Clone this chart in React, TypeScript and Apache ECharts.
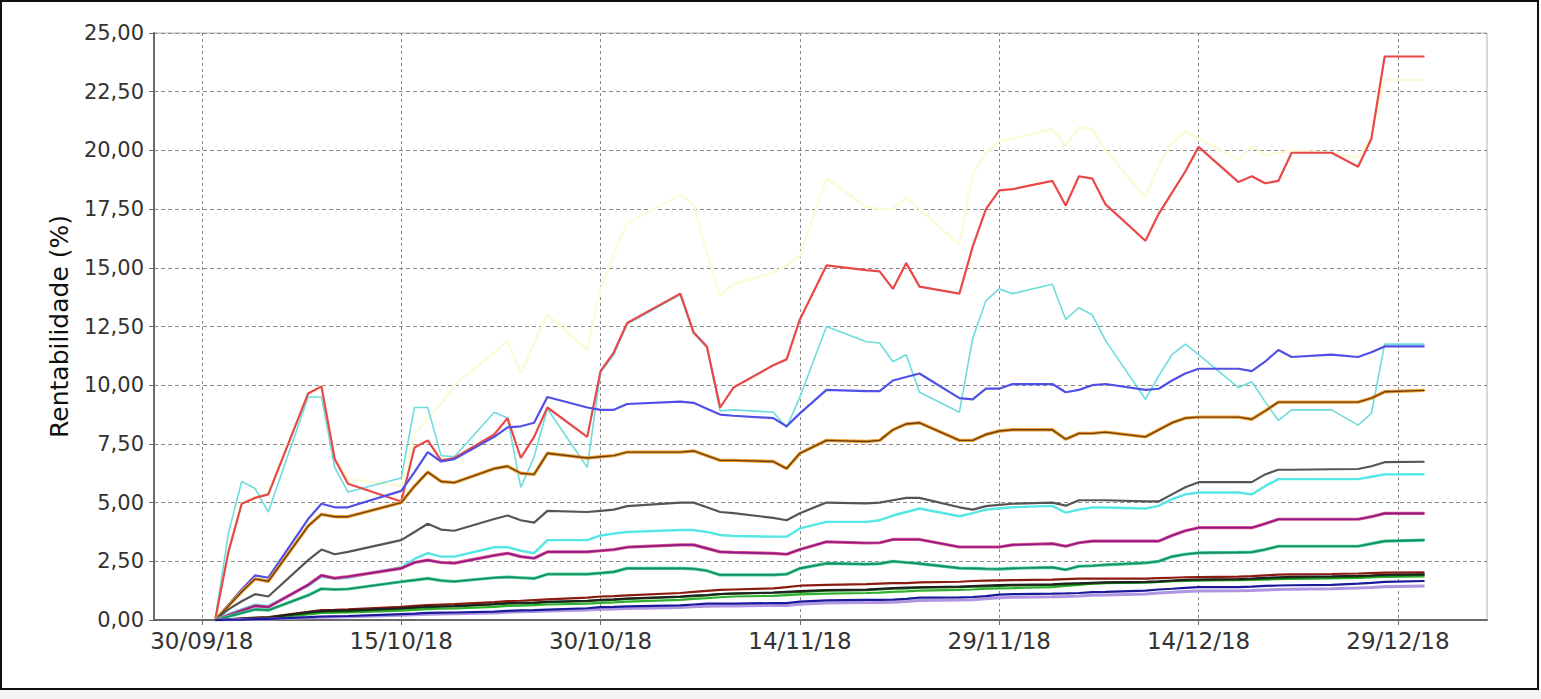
import React, { useEffect, useRef } from "react";
import * as echarts from "echarts";

// Business days (Brazil, 2018 Q4)
const dates = [
  "2018-10-01","2018-10-02","2018-10-03","2018-10-04","2018-10-05","2018-10-08","2018-10-09","2018-10-10","2018-10-11",
  "2018-10-15","2018-10-16","2018-10-17","2018-10-18","2018-10-19","2018-10-22","2018-10-23","2018-10-24","2018-10-25",
  "2018-10-26","2018-10-29","2018-10-30","2018-10-31",
  "2018-11-01","2018-11-05","2018-11-06","2018-11-07","2018-11-08","2018-11-09","2018-11-12","2018-11-13","2018-11-14",
  "2018-11-16","2018-11-19","2018-11-20","2018-11-21","2018-11-22","2018-11-23","2018-11-26","2018-11-27","2018-11-28",
  "2018-11-29","2018-11-30",
  "2018-12-03","2018-12-04","2018-12-05","2018-12-06","2018-12-07","2018-12-10","2018-12-11","2018-12-12","2018-12-13",
  "2018-12-14","2018-12-17","2018-12-18","2018-12-19","2018-12-20","2018-12-21","2018-12-24","2018-12-26","2018-12-27",
  "2018-12-28","2018-12-31",
];

const xTickValues = ["2018-09-30","2018-10-15","2018-10-30","2018-11-14","2018-11-29","2018-12-14","2018-12-29"];
const yMin = 0;
const yMax = 25;
const yStep = 2.5;
const axisTitle = "Rentabilidade (%)";

const paleYellow = [
  0, 3.0, 5.0, 5.25, 5.4, 9.6, 9.9, 6.9, 6.0, 5.7, 7.9, 8.6, 9.2, 10.0, 11.4, 11.9, 10.5, 11.8, 13.0, 11.5, 14.1, 15.6,
  16.9, 18.1, 17.7, 15.6, 13.8, 14.3, 14.8, 15.1, 15.5, 18.8, 17.6, 17.5, 17.5, 18.0, 17.5, 16.0, 19.0, 19.9, 20.4, 20.5,
  20.9, 20.2, 21.0, 20.9, 20.0, 18.0, 19.4, 20.3, 20.8, 20.5, 19.6, 20.2, 19.8, 19.9, 20.0, 19.9, 19.7, 20.6, 23.0, 23.0,
];
const cyanVolatile = [
  0, 3.7, 5.9, 5.6, 4.6, 9.5, 9.5, 6.5, 5.45, 6.05, 9.05, 9.05, 7.0, 6.95, 8.85, 8.6, 5.65, 6.95, 9.0, 6.5, 10.55, 11.3,
  12.6, 13.85, 12.2, 11.6, 8.9, 8.95, 8.85, 8.2, 9.5, 12.5, 11.85, 11.8, 11.0, 11.3, 9.7, 8.85, 12.0, 13.6, 14.1, 13.9,
  14.3, 12.8, 13.3, 13.0, 11.9, 9.4, 10.4, 11.3, 11.75, 11.3, 9.9, 10.15, 9.3, 8.5, 8.95, 8.95, 8.3, 8.8, 11.75, 11.75,
];
const red = [
  0, 2.9, 4.95, 5.2, 5.35, 9.65, 9.95, 6.85, 5.8, 5.05, 7.35, 7.65, 6.8, 6.9, 7.9, 8.6, 6.9, 7.8, 9.05, 7.8, 10.6, 11.4,
  12.65, 13.9, 12.25, 11.65, 9.05, 9.9, 10.85, 11.1, 12.8, 15.1, 14.9, 14.85, 14.1, 15.2, 14.2, 13.9, 15.9, 17.5, 18.3, 18.35,
  18.7, 17.65, 18.9, 18.8, 17.7, 16.15, 17.3, 18.2, 19.1, 20.15, 18.65, 18.9, 18.6, 18.7, 19.9, 19.9, 19.3, 20.5, 24.0, 24.0,
];
const blue = [
  0, 0.65, 1.3, 1.9, 1.8, 4.3, 4.95, 4.8, 4.8, 5.5, 6.3, 7.15, 6.75, 6.85, 7.8, 8.2, 8.25, 8.4, 9.5, 9.05, 8.95, 8.95,
  9.2, 9.3, 9.25, 9.0, 8.75, 8.7, 8.6, 8.25, 8.8, 9.8, 9.75, 9.75, 10.2, 10.35, 10.5, 9.45, 9.4, 9.85, 9.85, 10.05,
  10.05, 9.7, 9.8, 10.0, 10.05, 9.8, 9.85, 10.2, 10.5, 10.7, 10.7, 10.6, 11.0, 11.5, 11.2, 11.3, 11.2, 11.4, 11.65, 11.65,
];
const orange = [
  0, 0.6, 1.2, 1.75, 1.65, 4.0, 4.5, 4.4, 4.4, 5.0, 5.7, 6.3, 5.9, 5.85, 6.45, 6.55, 6.25, 6.2, 7.1, 6.9, 6.95, 7.0,
  7.15, 7.15, 7.2, 7.0, 6.8, 6.8, 6.75, 6.45, 7.1, 7.65, 7.6, 7.65, 8.1, 8.35, 8.4, 7.65, 7.65, 7.9, 8.05, 8.1,
  8.1, 7.7, 7.95, 7.95, 8.0, 7.8, 8.1, 8.4, 8.6, 8.64, 8.64, 8.55, 8.9, 9.28, 9.28, 9.28, 9.28, 9.45, 9.72, 9.78,
];
const gray = [
  0, 0.45, 0.8, 1.1, 1.0, 2.55, 3.0, 2.8, 2.9, 3.4, 3.75, 4.1, 3.85, 3.8, 4.3, 4.45, 4.25, 4.15, 4.65, 4.6, 4.65, 4.7,
  4.85, 5.0, 5.0, 4.8, 4.6, 4.55, 4.35, 4.25, 4.55, 5.0, 4.97, 5.0, 5.1, 5.2, 5.2, 4.8, 4.7, 4.85, 4.9, 4.95,
  5.0, 4.87, 5.1, 5.1, 5.1, 5.05, 5.05, 5.35, 5.65, 5.87, 5.87, 5.87, 6.2, 6.4, 6.4, 6.42, 6.43, 6.55, 6.72, 6.74,
];
const cyanLow = [
  0, 0.25, 0.45, 0.65, 0.6, 1.45, 1.85, 1.75, 1.8, 2.25, 2.6, 2.85, 2.7, 2.7, 3.1, 3.1, 2.95, 2.85, 3.4, 3.4, 3.6, 3.68,
  3.75, 3.83, 3.83, 3.75, 3.62, 3.58, 3.55, 3.55, 3.9, 4.18, 4.18, 4.25, 4.45, 4.6, 4.75, 4.42, 4.55, 4.7, 4.75, 4.8,
  4.86, 4.57, 4.7, 4.79, 4.79, 4.75, 4.86, 5.15, 5.35, 5.43, 5.43, 5.35, 5.7, 6.0, 6.0, 6.0, 6.0, 6.1, 6.2, 6.21,
];
const magenta = [
  0, 0.2, 0.4, 0.6, 0.55, 1.5, 1.9, 1.78, 1.85, 2.2, 2.45, 2.55, 2.45, 2.42, 2.75, 2.84, 2.7, 2.63, 2.9, 2.9, 2.95, 3.0,
  3.1, 3.2, 3.2, 3.05, 2.9, 2.88, 2.84, 2.8, 3.0, 3.33, 3.28, 3.29, 3.43, 3.43, 3.43, 3.11, 3.11, 3.11, 3.11, 3.2,
  3.25, 3.14, 3.29, 3.36, 3.36, 3.36, 3.36, 3.6, 3.8, 3.93, 3.93, 3.93, 4.1, 4.29, 4.29, 4.29, 4.29, 4.4, 4.54, 4.54,
];
const teal = [
  0, 0.15, 0.3, 0.45, 0.42, 1.05, 1.33, 1.3, 1.32, 1.63, 1.7, 1.77, 1.68, 1.64, 1.8, 1.83, 1.8, 1.77, 1.95, 1.95, 2.0, 2.05,
  2.2, 2.2, 2.18, 2.1, 1.92, 1.92, 1.92, 1.95, 2.2, 2.41, 2.38, 2.4, 2.5, 2.45, 2.4, 2.21, 2.2, 2.18, 2.17, 2.2,
  2.24, 2.14, 2.29, 2.31, 2.35, 2.43, 2.5, 2.7, 2.8, 2.86, 2.88, 2.89, 3.0, 3.14, 3.14, 3.14, 3.14, 3.25, 3.36, 3.4,
];
const darkRed = [
  0, 0.03, 0.07, 0.1, 0.12, 0.35, 0.42, 0.43, 0.45, 0.56, 0.6, 0.63, 0.66, 0.68, 0.76, 0.8, 0.82, 0.85, 0.88, 0.95, 1.0, 1.02,
  1.05, 1.15, 1.2, 1.24, 1.28, 1.3, 1.35, 1.4, 1.46, 1.5, 1.53, 1.55, 1.57, 1.57, 1.6, 1.63, 1.66, 1.68, 1.69, 1.7,
  1.72, 1.74, 1.76, 1.76, 1.76, 1.76, 1.78, 1.8, 1.82, 1.83, 1.85, 1.87, 1.9, 1.93, 1.94, 1.96, 1.98, 2.0, 2.02, 2.03,
];
const black = [
  0, 0.03, 0.06, 0.09, 0.11, 0.33, 0.38, 0.4, 0.41, 0.5, 0.54, 0.57, 0.59, 0.6, 0.68, 0.72, 0.73, 0.75, 0.78, 0.82, 0.86, 0.88,
  0.92, 1.0, 1.04, 1.07, 1.11, 1.13, 1.17, 1.2, 1.23, 1.28, 1.3, 1.33, 1.36, 1.38, 1.4, 1.43, 1.45, 1.47, 1.49, 1.5,
  1.52, 1.55, 1.57, 1.59, 1.61, 1.63, 1.65, 1.68, 1.71, 1.73, 1.75, 1.77, 1.8, 1.82, 1.84, 1.86, 1.88, 1.9, 1.93, 1.95,
];
const darkGreen = [
  0, 0.02, 0.05, 0.08, 0.1, 0.3, 0.36, 0.37, 0.38, 0.48, 0.52, 0.55, 0.57, 0.58, 0.66, 0.7, 0.71, 0.72, 0.76, 0.8, 0.84, 0.86,
  0.9, 0.98, 1.02, 1.05, 1.1, 1.12, 1.16, 1.18, 1.2, 1.25, 1.27, 1.3, 1.33, 1.35, 1.38, 1.4, 1.42, 1.43, 1.45, 1.47,
  1.5, 1.52, 1.54, 1.56, 1.58, 1.6, 1.62, 1.66, 1.69, 1.7, 1.72, 1.74, 1.76, 1.78, 1.8, 1.82, 1.85, 1.88, 1.9, 1.92,
];
const green = [
  0, 0.02, 0.04, 0.06, 0.08, 0.24, 0.3, 0.31, 0.32, 0.4, 0.43, 0.46, 0.48, 0.49, 0.56, 0.6, 0.61, 0.63, 0.66, 0.7, 0.73, 0.75,
  0.78, 0.86, 0.9, 0.93, 0.97, 1.0, 1.03, 1.06, 1.09, 1.12, 1.15, 1.17, 1.2, 1.22, 1.25, 1.28, 1.3, 1.33, 1.35, 1.36,
  1.4, 1.45, 1.5, 1.55, 1.57, 1.6, 1.62, 1.65, 1.67, 1.69, 1.7, 1.71, 1.72, 1.74, 1.75, 1.77, 1.79, 1.81, 1.84, 1.86,
];
const navy = [
  0, 0.01, 0.02, 0.04, 0.05, 0.12, 0.15, 0.16, 0.17, 0.25, 0.27, 0.3, 0.31, 0.32, 0.36, 0.39, 0.41, 0.42, 0.44, 0.5, 0.55, 0.56,
  0.58, 0.62, 0.66, 0.7, 0.7, 0.7, 0.72, 0.72, 0.78, 0.84, 0.86, 0.86, 0.87, 0.9, 0.95, 0.96, 0.98, 1.02, 1.08, 1.1,
  1.12, 1.13, 1.15, 1.19, 1.2, 1.25, 1.3, 1.33, 1.37, 1.4, 1.4, 1.42, 1.45, 1.47, 1.48, 1.5, 1.55, 1.58, 1.62, 1.66,
];
const lilac = [
  0, 0.01, 0.02, 0.03, 0.04, 0.1, 0.12, 0.13, 0.14, 0.2, 0.22, 0.25, 0.26, 0.27, 0.3, 0.33, 0.35, 0.36, 0.38, 0.43, 0.46, 0.47,
  0.49, 0.53, 0.56, 0.59, 0.6, 0.6, 0.62, 0.62, 0.67, 0.72, 0.74, 0.75, 0.76, 0.79, 0.83, 0.85, 0.86, 0.9, 0.95, 0.97,
  0.99, 1.0, 1.02, 1.05, 1.07, 1.11, 1.15, 1.18, 1.21, 1.24, 1.25, 1.26, 1.28, 1.3, 1.31, 1.33, 1.36, 1.38, 1.42, 1.45,
];

const START = Date.UTC(2018, 8, 30);
const dayOf = (s: string) => {
  const [y, m, d] = s.split("-").map(Number);
  return (Date.UTC(y, m - 1, d) - START) / 86400000;
};
const pad = (n: number) => (n < 10 ? "0" + n : "" + n);
const fmtDay = (v: number) => {
  const dt = new Date(START + Math.round(v) * 86400000);
  return pad(dt.getUTCDate()) + "/" + pad(dt.getUTCMonth() + 1) + "/" + pad(dt.getUTCFullYear() % 100);
};

const FONT = "DejaVu Sans";

export default function App() {
  const ref = useRef<HTMLDivElement>(null);
  useEffect(() => {
    if (!ref.current) return;
    const chart = echarts.init(ref.current, undefined, { renderer: "svg" });
    const xs = dates.map(dayOf);
    const mk = (name: string, vals: number[], color: string, width: number, z = 2) => ({
      name,
      type: "line",
      data: xs.map((x, i) => [x, vals[i]]),
      showSymbol: false,
      symbol: "none",
      lineStyle: { color, width },
      itemStyle: { color },
      z,
    });
    const tickVals = xTickValues.map(dayOf);
    chart.setOption({
      animation: false,
      backgroundColor: "#ffffff",
      grid: {
        left: 154,
        top: 33,
        right: 54,
        bottom: 79,
        show: true,
        borderColor: "#b0b0b0",
        borderWidth: 1,
        backgroundColor: "#ffffff",
      },
      xAxis: {
        type: "value",
        min: -3.6,
        max: 96.7,
        axisLine: { show: true, onZero: false, lineStyle: { color: "#6a6a6a", width: 2 } },
        axisTick: { show: true, length: 5, customValues: tickVals, lineStyle: { color: "#6a6a6a" } },
        axisLabel: {
          customValues: tickVals,
          formatter: (v: number) => fmtDay(v),
          fontFamily: FONT,
          fontSize: 23,
          color: "#333",
          margin: 9,
        },
        splitLine: { show: true, lineStyle: { color: "#8a8a8a", type: [3, 3], width: 1 } },
      },
      yAxis: {
        type: "value",
        min: yMin,
        max: yMax,
        interval: yStep,
        name: axisTitle,
        nameLocation: "middle",
        nameRotate: 90,
        nameGap: 82,
        nameTextStyle: { fontFamily: FONT, fontSize: 25, color: "#111" },
        axisLine: { show: true, onZero: false, lineStyle: { color: "#6a6a6a", width: 2 } },
        axisTick: { show: true, length: 5, lineStyle: { color: "#6a6a6a" } },
        axisLabel: {
          formatter: (v: number) => v.toFixed(2).replace(".", ","),
          fontFamily: FONT,
          fontSize: 21,
          color: "#333",
          margin: 10,
        },
        splitLine: { show: true, lineStyle: { color: "#8a8a8a", type: [4, 3], width: 1 } },
      },
      graphic: [
        {
          type: "rect",
          shape: { x: 1, y: 1, width: 1537, height: 688 },
          style: { fill: "none", stroke: "#111", lineWidth: 2 },
          silent: true,
        },
        {
          type: "rect",
          shape: { x: 0, y: 690, width: 1541, height: 9 },
          style: { fill: "#f5f5f5" },
          silent: true,
        },
      ],
      series: [
        mk("A", paleYellow, "#fbfbd8", 2.4),
        mk("B", cyanVolatile, "#6edcdc", 1.6),
        mk("C", red, "#e84848", 2.2),
        mk("D", blue, "#5050e6", 2.2),
        mk("E", orange, "#f0a030", 3.4),
        mk("E2", orange, "#6b3e10", 1.4),
        mk("F", gray, "#555555", 2.2),
        mk("G", cyanLow, "#55e6e6", 2.4),
        mk("H", magenta, "#e0508a", 3.2),
        mk("H2", magenta, "#8c1a88", 1.6),
        mk("I", teal, "#40d090", 3.2),
        mk("I2", teal, "#188a66", 1.6),
        mk("J", darkRed, "#8b1a10", 2.2),
        mk("K", green, "#30b030", 2.2),
        mk("L", darkGreen, "#0a6a0a", 2.2),
        mk("M", black, "#202020", 2),
        mk("N", lilac, "#b096e0", 3),
        mk("O", navy, "#1a1a9a", 2.2),
      ],
    });
    return () => chart.dispose();
  }, []);
  return (
    <div
      ref={ref}
      style={{ position: "fixed", left: 0, top: 0, width: 1541, height: 699, background: "#fff" }}
    />
  );
}
